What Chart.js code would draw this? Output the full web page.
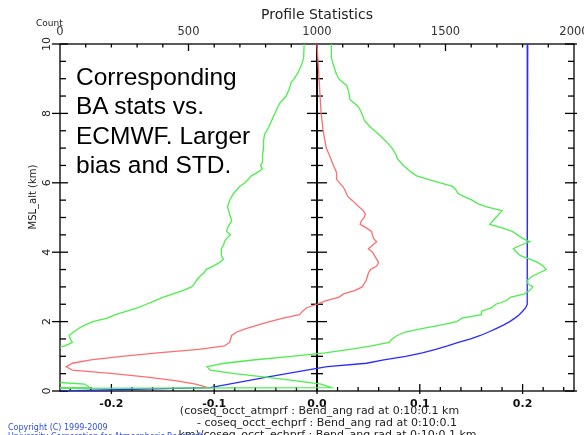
<!DOCTYPE html>
<html>
<head>
<meta charset="utf-8">
<script src="https://cdn.jsdelivr.net/npm/chart.js@4.4.0/dist/chart.umd.min.js"></script>
<style>
  html, body { margin: 0; padding: 0; background: #fff; }
  #wrap { position: relative; width: 584px; height: 435px; overflow: hidden; }
  #c { position: absolute; left: 0; top: 0; }
  .t { position: absolute; white-space: nowrap; font-family: "DejaVu Sans", sans-serif; }
</style>
</head>
<body>
<div id="wrap">
  <canvas id="c" width="584" height="435"></canvas>
  <div class="t" style="left:217px;top:7px;width:200px;text-align:center;font-size:14px;line-height:14px;color:#222;">Profile Statistics</div>
  <div class="t" style="left:36px;top:19.4px;font-size:9px;line-height:9px;color:#222;">Count</div>
  <div class="t" style="left:-17px;top:191px;width:100px;height:12px;text-align:center;font-size:10px;line-height:12px;color:#222;transform:rotate(-90deg);">MSL_alt (km)</div>
  <div class="t" style="left:76px;top:62px;font-family:'Liberation Sans',Arial,sans-serif;font-size:24.5px;line-height:29.4px;color:#000;">Corresponding<br>BA stats vs.<br>ECMWF. Larger<br>bias and STD.</div>
  <div class="t" style="left:119.5px;top:405px;width:400px;text-align:center;font-size:11px;line-height:12px;color:#222;">(coseq_occt_atmprf : Bend_ang rad at 0:10:0.1 km</div>
  <div class="t" style="left:127px;top:417px;width:400px;text-align:center;font-size:11px;line-height:12px;color:#222;">- coseq_occt_echprf : Bend_ang rad at 0:10:0.1</div>
  <div class="t" style="left:127.5px;top:429px;width:400px;text-align:center;font-size:11px;line-height:12px;color:#222;">km)/coseq_occt_echprf : Bend_ang rad at 0:10:0.1 km</div>
  <div class="t" style="left:8px;top:422.7px;font-size:8px;line-height:9px;color:#2f4fe0;">Copyright (C) 1999-2009<br>University Corporation for Atmospheric Research</div>
</div>
<script>
// Bending-angle fractional difference vs. altitude (km)
const redAlt = [10.0, 9.5, 9.0, 8.5, 8.0, 7.5, 7.0, 6.8, 6.5, 6.3, 6.1, 5.9, 5.8, 5.6, 5.5, 5.3, 5.2, 5.1, 5.0, 4.9, 4.8, 4.7, 4.6, 4.5, 4.4, 4.3, 4.2, 4.1, 4.0, 3.9, 3.8, 3.7, 3.6, 3.5, 3.4, 3.2, 3.0, 2.9, 2.8, 2.7, 2.6, 2.5, 2.4, 2.3, 2.2, 2.1, 2.0, 1.9, 1.8, 1.7, 1.6, 1.5, 1.4, 1.3, 1.2, 1.1, 1.0, 0.9, 0.8, 0.7, 0.6, 0.5, 0.4, 0.3, 0.2, 0.1];
const redMean = [0.000, 0.001, 0.002, 0.003, 0.004, 0.006, 0.009, 0.012, 0.016, 0.019, 0.019, 0.025, 0.027, 0.030, 0.034, 0.041, 0.045, 0.047, 0.046, 0.043, 0.042, 0.048, 0.053, 0.054, 0.055, 0.058, 0.054, 0.050, 0.054, 0.056, 0.058, 0.060, 0.058, 0.052, 0.050, 0.048, 0.044, 0.037, 0.026, 0.021, 0.008, 0.000, -0.010, -0.014, -0.017, -0.033, -0.046, -0.058, -0.069, -0.078, -0.083, -0.084, -0.085, -0.090, -0.115, -0.155, -0.190, -0.220, -0.238, -0.244, -0.238, -0.198, -0.165, -0.138, -0.118, -0.106];

// mean + std
const upAlt = [10.0, 9.6, 9.4, 9.2, 9.0, 8.9, 8.8, 8.6, 8.4, 8.3, 8.2, 8.1, 7.9, 7.8, 7.6, 7.4, 7.2, 7.0, 6.8, 6.7, 6.5, 6.3, 6.2, 6.1, 6.0, 5.9, 5.8, 5.7, 5.6, 5.5, 5.4, 5.3, 5.2, 5.0, 4.8, 4.7, 4.6, 4.4, 4.3, 4.2, 4.1, 4.0, 3.9, 3.8, 3.7, 3.6, 3.5, 3.4, 3.3, 3.2, 3.1, 3.0, 2.9, 2.8, 2.7, 2.6, 2.5, 2.4, 2.3, 2.2, 2.1, 2.0, 1.9, 1.8, 1.7, 1.6, 1.5, 1.4, 1.3, 1.2, 1.1, 1.0, 0.9, 0.8, 0.7, 0.6, 0.5, 0.4, 0.3, 0.2, 0.1, 0.0];
const upVal = [0.014, 0.014, 0.016, 0.018, 0.021, 0.025, 0.029, 0.031, 0.032, 0.036, 0.040, 0.042, 0.045, 0.046, 0.052, 0.060, 0.067, 0.073, 0.077, 0.078, 0.084, 0.092, 0.097, 0.108, 0.120, 0.132, 0.135, 0.137, 0.143, 0.151, 0.156, 0.166, 0.180, 0.174, 0.168, 0.180, 0.190, 0.200, 0.207, 0.198, 0.191, 0.194, 0.198, 0.207, 0.215, 0.220, 0.223, 0.216, 0.209, 0.205, 0.205, 0.210, 0.207, 0.202, 0.188, 0.184, 0.174, 0.170, 0.160, 0.160, 0.141, 0.136, 0.120, 0.102, 0.086, 0.078, 0.073, 0.070, 0.053, 0.032, 0.008, -0.025, -0.060, -0.090, -0.107, -0.104, -0.080, -0.050, -0.022, 0.004, 0.014, -1.0];

// mean - std
const loAlt = [10.0, 9.6, 9.4, 9.2, 9.0, 8.9, 8.7, 8.5, 8.3, 8.2, 8.0, 7.8, 7.6, 7.4, 7.2, 7.0, 6.8, 6.6, 6.5, 6.4, 6.3, 6.2, 6.1, 6.0, 5.9, 5.8, 5.7, 5.6, 5.5, 5.4, 5.3, 5.2, 5.1, 5.0, 4.9, 4.8, 4.7, 4.6, 4.5, 4.4, 4.3, 4.2, 4.1, 4.0, 3.9, 3.8, 3.7, 3.6, 3.5, 3.4, 3.3, 3.2, 3.1, 3.0, 2.9, 2.8, 2.7, 2.6, 2.5, 2.4, 2.3, 2.2, 2.1, 2.0, 1.9, 1.8, 1.7, 1.6, 1.5, 1.4, 1.3, 1.2, 1.0, 0.8, 0.6, 0.4, 0.3, 0.2, 0.1, 0.0];
const loVal = [-0.0125, -0.013, -0.015, -0.018, -0.022, -0.025, -0.027, -0.030, -0.036, -0.038, -0.041, -0.044, -0.047, -0.051, -0.052, -0.052, -0.053, -0.053, -0.055, -0.053, -0.058, -0.064, -0.067, -0.070, -0.075, -0.078, -0.081, -0.083, -0.085, -0.086, -0.087, -0.086, -0.085, -0.084, -0.083, -0.085, -0.087, -0.088, -0.084, -0.088, -0.090, -0.091, -0.093, -0.093, -0.093, -0.091, -0.095, -0.101, -0.108, -0.110, -0.114, -0.117, -0.119, -0.122, -0.130, -0.140, -0.150, -0.158, -0.166, -0.174, -0.185, -0.196, -0.204, -0.218, -0.226, -0.232, -0.237, -0.241, -0.240, -0.238, -0.245, -0.262, -0.290, -0.300, -0.300, -0.290, -0.280, -0.226, -0.221, -1.0];

// number of profiles per level (top axis)
const cntAlt = [10.0, 2.5, 2.4, 2.3, 2.2, 2.1, 2.0, 1.9, 1.8, 1.7, 1.6, 1.5, 1.4, 1.3, 1.2, 1.1, 1.0, 0.9, 0.8, 0.7, 0.6, 0.4, 0.2, 0.1, 0.0];
const cntVal = [1820, 1818, 1812, 1800, 1787, 1770, 1750, 1725, 1697, 1668, 1636, 1598, 1550, 1508, 1462, 1410, 1345, 1260, 1193, 1040, 960, 805, 658, 584, 0];

// tick labels
const bendTicks = [-0.2, -0.1, 0.0, 0.1, 0.2];
const countTicks = [0, 500, 1000, 1500, 2000];
const altTicks = [0, 2, 4, 6, 8, 10];

const pairs = (ys, xs) => ys.map((y, i) => ({ x: xs[i], y: y }));

// frame, inward ticks and the zero line
const axesPlugin = {
  id: 'profileAxes',
  beforeDatasetsDraw(chart) {
    const ctx = chart.ctx, ca = chart.chartArea;
    const sx = chart.scales.x, sc = chart.scales.xc, sy = chart.scales.y;
    const seg = (x1, y1, x2, y2) => { ctx.beginPath(); ctx.moveTo(x1, y1); ctx.lineTo(x2, y2); ctx.stroke(); };
    ctx.save();
    ctx.strokeStyle = '#000';
    ctx.lineWidth = 1.3;
    ctx.strokeRect(ca.left, ca.top, ca.right - ca.left, ca.bottom - ca.top);
    // bottom axis
    for (let i = -12; i <= 12; i++) {
      const px = sx.getPixelForValue(i * 0.02);
      const major = i % 5 === 0;
      seg(px, ca.bottom + (major ? 3 : 0), px, ca.bottom - (major ? 7 : 4));
    }
    // top axis
    for (let c = 100; c < 2000; c += 100) {
      const px = sc.getPixelForValue(c);
      seg(px, ca.top, px, ca.top + (c % 500 === 0 ? 7 : 3.5));
    }
    // left and right axes
    for (let a = 0; a <= 10; a += 0.5) {
      const py = sy.getPixelForValue(a);
      const major = a % 2 === 0;
      seg(ca.left - (major ? 8 : 0), py, ca.left + (major ? 8 : 6), py);
      seg(ca.right + (major ? 3 : 0), py, ca.right - (major ? 9 : 6), py);
    }
    // zero line
    const x0 = sx.getPixelForValue(0);
    ctx.lineWidth = 2;
    seg(x0, ca.top, x0, ca.bottom);
    ctx.lineWidth = 1.3;
    for (let a = 0.5; a < 10; a += 0.5) {
      const py = sy.getPixelForValue(a);
      const h = a % 2 === 0 ? 10 : 6;
      seg(x0 - h, py, x0 + h, py);
    }
    ctx.restore();
  }
};

const lineDs = (data, color, axis) => ({
  data, xAxisID: axis, yAxisID: 'y', showLine: true, fill: false,
  borderColor: color, borderWidth: 1.3, pointRadius: 0, tension: 0
});

new Chart(document.getElementById('c'), {
  type: 'scatter',
  data: {
    datasets: [
      lineDs(pairs(loAlt, loVal), '#4cef4c', 'x'),
      lineDs(pairs(upAlt, upVal), '#4cef4c', 'x'),
      lineDs(pairs(redAlt, redMean), '#ff6e6e', 'x'),
      lineDs(pairs(cntAlt, cntVal), '#2b2bff', 'xc')
    ]
  },
  options: {
    responsive: false,
    animation: false,
    layout: { padding: { left: 0, right: 10, top: 0, bottom: 0 } },
    plugins: { legend: { display: false }, tooltip: { enabled: false }, title: { display: false } },
    scales: {
      x: {
        type: 'linear', position: 'bottom', min: -0.25, max: 0.25,
        afterBuildTicks: s => { s.ticks = bendTicks.map(v => ({ value: v })); },
        afterFit: s => { s.height = 44; s.paddingLeft = 0; s.paddingRight = 0; },
        grid: { display: false, drawTicks: false }, border: { display: false },
        ticks: { padding: 7, color: '#111', maxRotation: 0, autoSkip: false,
          font: { family: 'DejaVu Sans', size: 11, weight: 'bold' },
          callback: v => v.toFixed(1) }
      },
      xc: {
        type: 'linear', position: 'top', min: 0, max: 2000,
        afterBuildTicks: s => { s.ticks = countTicks.map(v => ({ value: v })); },
        afterFit: s => { s.height = 44; s.paddingLeft = 0; s.paddingRight = 0; },
        grid: { display: false, drawTicks: false }, border: { display: false },
        ticks: { padding: 5, color: '#333', maxRotation: 0, autoSkip: false,
          font: { family: 'DejaVu Sans', size: 11.5 },
          callback: v => String(v) }
      },
      y: {
        type: 'linear', position: 'left', min: 0, max: 10,
        afterBuildTicks: s => { s.ticks = altTicks.map(v => ({ value: v })); },
        afterFit: s => { s.width = 60; s.paddingTop = 0; s.paddingBottom = 0; },
        grid: { display: false, drawTicks: false }, border: { display: false },
        ticks: { padding: 6, color: '#222', minRotation: 90, maxRotation: 90, crossAlign: 'center', autoSkip: false,
          font: { family: 'DejaVu Sans', size: 11 },
          callback: v => String(v) }
      }
    }
  },
  plugins: [axesPlugin]
});
</script>
</body>
</html>
